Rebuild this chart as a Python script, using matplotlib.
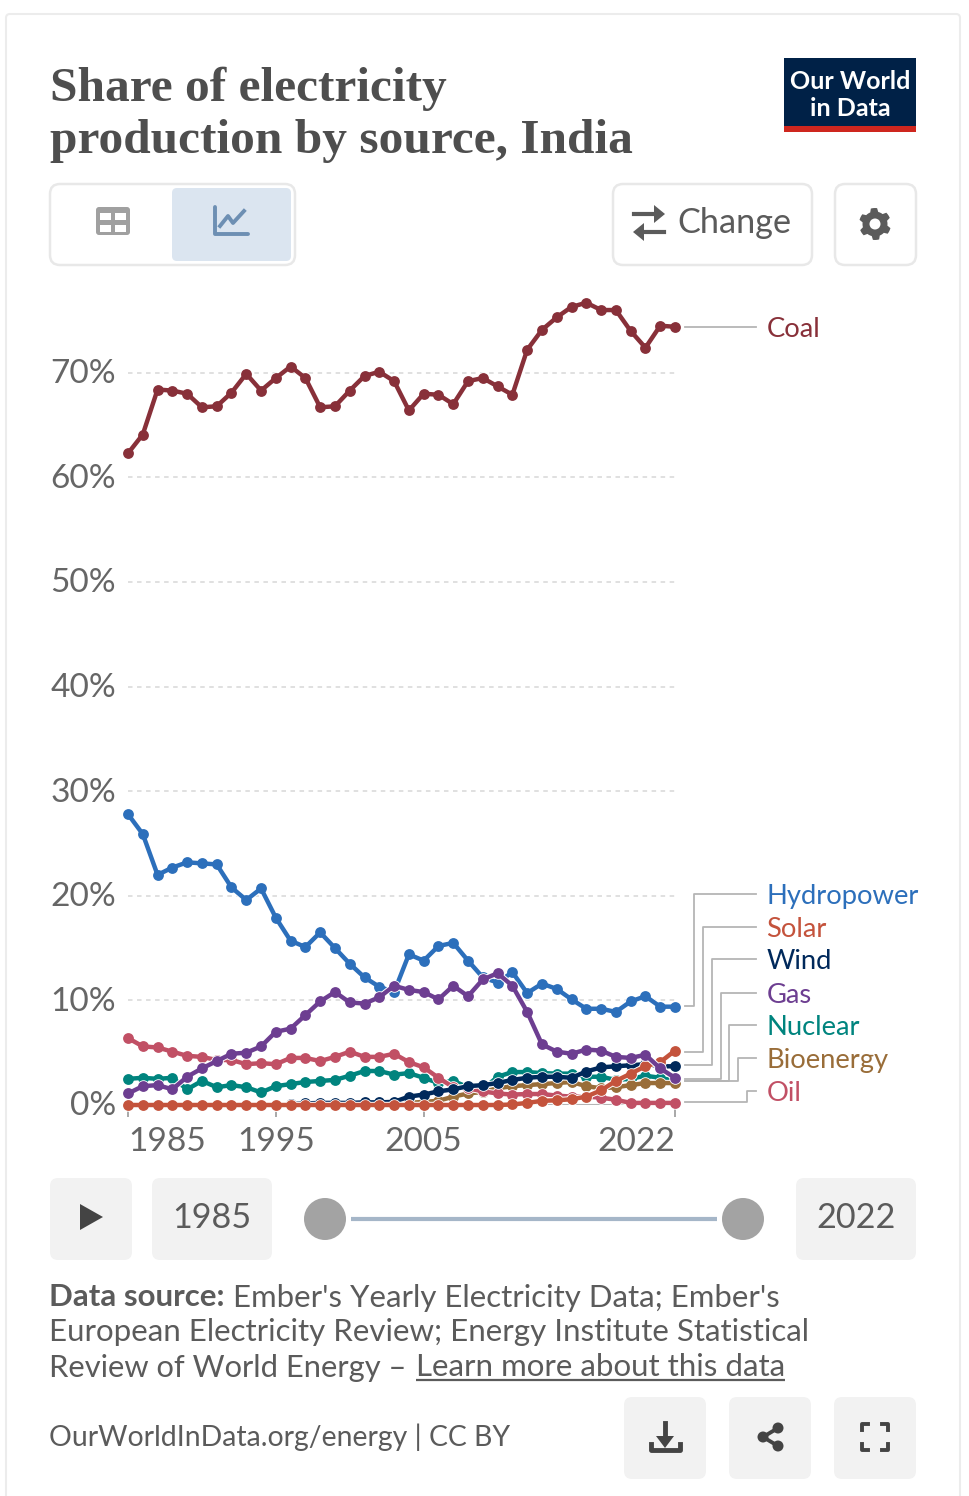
import numpy as np
import matplotlib
matplotlib.use("Agg")
import matplotlib.pyplot as plt
from matplotlib.patches import FancyBboxPatch, Rectangle, Polygon, Circle

years = list(range(1985, 2023))
coal = [62.3,64.1,68.4,68.3,68.0,66.7,66.8,68.1,69.9,68.3,69.5,70.6,69.5,66.7,66.8,68.3,69.7,70.1,69.2,66.4,
        68.0,67.9,67.0,69.2,69.5,68.7,67.9,72.2,74.1,75.3,76.3,76.7,76.0,76.0,74.0,72.4,74.5,74.4]
hydro = [27.8,25.9,22.0,22.7,23.2,23.1,23.0,20.8,19.6,20.7,17.9,15.7,15.1,16.5,15.0,13.5,12.2,11.3,10.8,14.4,
         13.8,15.2,15.5,13.8,12.2,11.7,12.7,10.7,11.6,11.1,10.1,9.2,9.2,8.9,9.9,10.4,9.4,9.4]
gas = [1.1,1.8,1.9,1.5,2.7,3.5,4.2,4.9,5.0,5.6,7.0,7.3,8.6,9.9,10.8,9.8,9.7,10.3,11.4,11.0,
       10.8,10.1,11.4,10.4,12.0,12.6,11.4,8.9,5.8,5.1,4.9,5.3,5.2,4.6,4.5,4.8,3.5,2.6]
oil = [6.4,5.6,5.5,5.1,4.7,4.6,4.3,4.3,3.9,4.0,3.9,4.5,4.5,4.2,4.6,5.1,4.6,4.6,4.9,4.1,
       3.6,2.6,1.7,1.6,1.3,1.1,1.0,1.05,1.05,0.9,0.8,0.8,0.7,0.5,0.2,0.2,0.2,0.2]
nuclear = [2.5,2.6,2.5,2.6,1.5,2.3,1.7,1.9,1.7,1.2,1.8,2.0,2.2,2.3,2.4,2.8,3.25,3.25,2.9,3.05,
           2.6,2.1,2.3,1.7,1.5,2.7,3.15,3.15,3.05,3.0,3.0,2.7,2.7,2.4,2.5,2.8,2.6,2.3]
wind = [None]*10 + [0.0,0.1,0.15,0.2,0.2,0.2,0.25,0.25,0.3,0.8,1.0,1.3,1.5,1.8,1.9,2.1,2.4,2.6,2.7,2.7,
                    2.6,3.2,3.6,3.7,3.8,3.9,3.7,3.7]
solar = [0.0]*25 + [0.0,0.05,0.2,0.4,0.45,0.55,0.8,1.4,2.3,3.0,3.7,4.1,5.2]
bio = [None]*16 + [0.1,0.1,0.1,0.2,0.3,0.4,0.8,1.1,1.25,1.6,1.8,1.9,2.0,2.1,2.2,1.8,1.6,1.7,1.9,2.1,2.1,2.1]

series_order = ["Nuclear","Bioenergy","Oil","Wind","Hydropower","Solar","Gas","Coal"]
series_vals = dict(Nuclear=nuclear,Bioenergy=bio,Oil=oil,Wind=wind,Hydropower=hydro,Gas=gas,Solar=solar,Coal=coal)
colors = dict(Coal="#883039",Hydropower="#2c6fbb",Solar="#c4533c",Wind="#00295b",Gas="#6d3e91",
              Nuclear="#00847e",Bioenergy="#996d39",Oil="#c15065")
y_ticks = [0,10,20,30,40,50,60,70]
x_ticks = [1985,1995,2005,2022]

W,H = 969,1496
plt.rcParams['font.family'] = ['Lato','DejaVu Sans']
fig = plt.figure(figsize=(W/100,H/100),dpi=100,facecolor="white")
ui = fig.add_axes([0,0,1,1],zorder=0); ui.set_xlim(0,W); ui.set_ylim(H,0); ui.axis("off")

def rr(x0,y0,x1,y1,fc="none",ec="none",lw=1.5,r=9,z=1):
    ui.add_patch(FancyBboxPatch((x0,y0),x1-x0,y1-y0,boxstyle=f"round,pad=0,rounding_size={r}",fc=fc,ec=ec,lw=lw,zorder=z))

GR="#5b5b5b"
BORDER="#e8e8e8"
# card
rr(6,14,960,1520,ec="#ececec",lw=1.5,r=4)
# title
for t,y in [("Share of electricity",89),("production by source, India",141)]:
    ui.text(50,y,t,family="Liberation Serif",weight="bold",fontsize=35.6,color="#4e4e4e",va="center",ha="left")
# logo
ui.add_patch(Rectangle((784,58),132,74,fc="#002147",ec="none"))
ui.add_patch(Rectangle((784,126),132,6,fc="#ce261e",ec="none"))
ui.text(850,81,"Our World",color="white",weight="bold",fontsize=18,ha="center",va="center")
ui.text(850,108,"in Data",color="white",weight="bold",fontsize=18,ha="center",va="center")
# toggle
rr(50,184,295,265,fc="white",ec=BORDER,lw=1.8,r=10)
rr(172,188,291,261,fc="#dbe5f0",r=5,z=2)
rr(96,207,130,235,fc="#a0a0a0",r=3,z=3)
for x0 in (100,115):
    for y0 in (213,225):
        ui.add_patch(Rectangle((x0,y0),11,7,fc="white",zorder=4))
ui.plot([215,215,248],[207,234,234],color="#6d8fb3",lw=2.8,solid_capstyle="round",zorder=4)
ui.plot([220,228,233,244],[226,216,223,211],color="#6d8fb3",lw=2.8,zorder=4)
# change
rr(613,184,812,265,fc="white",ec=BORDER,lw=1.8,r=10)
ui.plot([634,656],[214,214],color=GR,lw=3,zorder=3)
ui.add_patch(Polygon([[654,205],[665,214],[654,223]],fc=GR,zorder=3))
ui.plot([643,664],[232,232],color=GR,lw=3,zorder=3)
ui.add_patch(Polygon([[644,223],[633,232],[644,241]],fc=GR,zorder=3))
ui.text(677,223,"Change",fontsize=24.7,color=GR,va="center",ha="left",zorder=3)
# gear
rr(835,184,916,265,fc="white",ec=BORDER,lw=1.8,r=10)
cx,cy=875,224
ang=np.linspace(0,2*np.pi,49)[:-1]
rad=[16 if (i%8) in (0,1,2,7) else 12.5 for i in range(48)]
ui.add_patch(Polygon([[cx+r*np.sin(a),cy+r*np.cos(a)] for r,a in zip(rad,ang)],fc=GR,zorder=3))
ui.add_patch(Circle((cx,cy),5.5,fc="white",zorder=4))
# timeline
rr(50,1178,132,1260,fc="#f2f2f2",r=8)
ui.add_patch(Polygon([[80,1204],[103,1217],[80,1230]],fc="#444444",zorder=3))
rr(152,1178,272,1260,fc="#f2f2f2",r=8)
rr(796,1178,916,1260,fc="#f2f2f2",r=8)
ui.text(212,1218,"1985",fontsize=24.6,color=GR,ha="center",va="center",zorder=3)
ui.text(856,1218,"2022",fontsize=24.6,color=GR,ha="center",va="center",zorder=3)
ui.plot([351,717],[1219,1219],color="#a5b6c8",lw=3,zorder=2,solid_capstyle="butt")
for x in (325,743):
    ui.add_patch(Circle((x,1219),21,fc="#a3a3a3",zorder=3))
# footer
fs=22.5
r=fig.canvas.get_renderer()
t=ui.text(49.5,1297.5,"Data source:",weight="bold",fontsize=fs,color=GR,va="center")
x=t.get_window_extent(r).x1
ui.text(x+8,1297.5,"Ember's Yearly Electricity Data; Ember's",fontsize=fs*0.995,color=GR,va="center")
ui.text(49.5,1332.5,"European Electricity Review; Energy Institute Statistical",fontsize=fs,color=GR,va="center")
ui.text(49.5,1367.5,"Review of World Energy \u2013",fontsize=fs*0.99,color=GR,va="center")
ui.text(416,1367.5,"Learn more about this data",fontsize=fs,color=GR,va="center")
ui.plot([416,785],[1380,1380],color=GR,lw=1.6,solid_capstyle="butt")
ui.text(49.5,1437,"OurWorldInData.org/energy | CC BY",fontsize=20.4,color=GR,va="center")
for x0 in (624,729,834):
    rr(x0,1397,x0+82,1479,fc="#f2f2f2",r=8)
# download icon
ui.plot([665,665],[1423,1440],color="#444444",lw=3.5,zorder=3)
ui.add_patch(Polygon([[656,1436],[674,1436],[665,1448]],fc="#444444",zorder=3))
ui.plot([651,651,680,680],[1444,1450,1450,1444],color="#444444",lw=3.5,zorder=3)
# share icon
ui.plot([778,763,778],[1428,1437,1446],color="#444444",lw=2.8,zorder=3)
for p in [(778,1428),(763,1437),(778,1446)]:
    ui.add_patch(Circle(p,5.5,fc="#444444",zorder=4))
# fullscreen icon
for sx,sy in [(-1,-1),(1,-1),(-1,1),(1,1)]:
    a,b=875+sx*13,1437+sy*13
    ui.plot([a,a,a-sx*6],[b-sy*6,b,b],color="#444444",lw=2.8,zorder=3)

# chart
x0,x1,ytop,y0=128,675,300,1105
yscale=10.46
ax=fig.add_axes([x0/W,1-y0/H,(x1-x0)/W,(y0-ytop)/H],zorder=2)
ax.patch.set_alpha(0)
ax.set_xlim(1985,2022); ax.set_ylim(0,(y0-ytop)/yscale)
for s in ax.spines.values(): s.set_visible(False)
for v in y_ticks[1:]:
    ax.axhline(v,color="#dddddd",lw=1.3,ls=(0,(2.5,2.5)),zorder=1)
ax.axhline(0,color="#b5b5b5",lw=1.5,zorder=1)
ax.set_xticks(x_ticks); ax.set_yticks(y_ticks)
ax.tick_params(axis="x",length=8.6,width=1.4,color="#a8a8a8",labelbottom=False)
ax.tick_params(axis="y",length=0,labelleft=False)
for v in y_ticks:
    ax.annotate(f"{v}%",(1985,v),xytext=(-12*0.72,-1.3*0.72),textcoords="offset points",ha="right",va="center",
                fontsize=24.1,color="#666666",annotation_clip=False)
for yr,ha,dx in [(1985,"left",0),(1995,"center",0),(2005,"center",0),(2022,"right",0)]:
    ax.annotate(str(yr),(yr,0),xytext=(dx*0.72,-37*0.72),textcoords="offset points",ha=ha,va="center",
                fontsize=24.1,color="#666666",annotation_clip=False)
for i,n in enumerate(series_order):
    v=np.array(series_vals[n],dtype=float); c=colors[n]; z=3+i*2
    ax.plot(years,v,color="white",lw=4.6,zorder=z,clip_on=False,solid_joinstyle="round")
    ax.plot(years,v,ls="",marker="o",ms=9,mfc="white",mec="white",mew=0,zorder=z,clip_on=False)
    ax.plot(years,v,color=c,lw=3.2,zorder=z+1,clip_on=False,solid_joinstyle="round")
    ax.plot(years,v,ls="",marker="o",ms=7.8,mfc=c,mew=0,zorder=z+1,clip_on=False)

# legend labels
LC="#b5b5b5"
conn=[("Coal",327,None,327),("Hydropower",1006,694,894),("Solar",1052,703,927),("Wind",1065,712,959),
      ("Gas",1079,721,993),("Nuclear",1081,729,1025),("Bioenergy",1081,738,1058),("Oil",1102,747,1091)]
for n,ys,xm,yt in conn:
    if xm is None:
        ui.plot([685,756],[ys,ys],color=LC,lw=1.3,zorder=1)
    else:
        ui.plot([685,xm,xm,756],[ys,ys,yt,yt],color=LC,lw=1.3,zorder=1)
    ui.text(766.5,yt+2.5,n,color=colors[n],fontsize=19.7,va="center",ha="left")

fig.savefig("out.png",dpi=100)
